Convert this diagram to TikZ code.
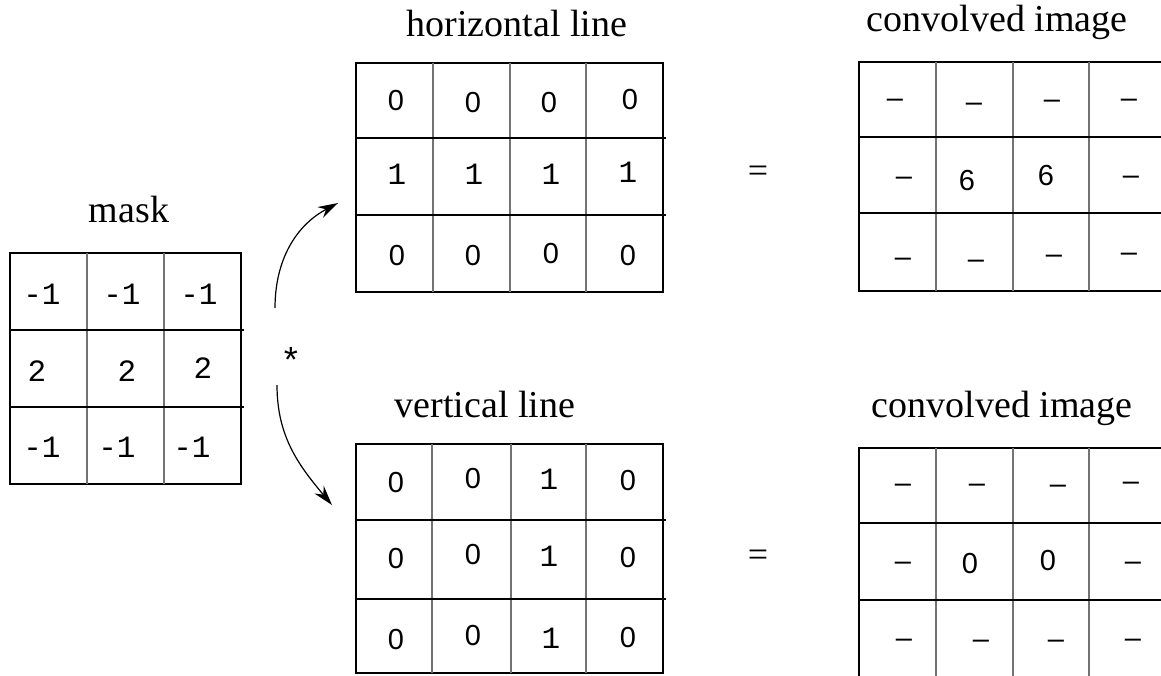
\documentclass[tikz,border=0pt]{standalone}
\usepackage{fontspec}
\setmainfont{Liberation Serif}
\newfontfamily\cellfont{Liberation Mono}
\newfontfamily\digitfont{Liberation Sans}
\usetikzlibrary{arrows.meta}
\tikzset{
  frame/.style={draw=black, line width=2.2pt, anchor=north west, inner sep=0pt, outer sep=0pt},
  vsep/.style={draw=black!55, line width=1.3pt},
  hsep/.style={draw=black, line width=1.3pt},
  cell/.style={font=\cellfont\fontsize{31}{33}\selectfont, inner sep=0pt, text height=18pt, text depth=0pt},
  zcell/.style={font=\digitfont\fontsize{29}{31}\selectfont, inner sep=0pt, text height=20pt, text depth=0pt},
  lbl/.style={font=\fontsize{38}{40}\selectfont, anchor=base, inner sep=0pt},
  eqsign/.style={font=\fontsize{36}{38}\selectfont, anchor=base, inner sep=0pt},
  arc/.style={line width=1.2pt, -{Stealth[length=20pt,width=12pt]}},
}
\begin{document}
\begin{tikzpicture}[x=1pt,y=-1pt]
\clip (0,0) rectangle (1161,675);
\fill[white] (0,0) rectangle (1161,675);

% ---------- mask ----------
\node[lbl] (lmask) at (129,222) {mask};
\node[frame, minimum width=231pt, minimum height=231pt] (mask) at (10,253) {};
\foreach \x in {87,164} \draw[vsep] (\x,253) -- (\x,484);
\foreach \y in {330,407} \draw[hsep] (10,\y) -- (244,\y);
\foreach \t/\x/\y [count=\i] in {-1/42/295, -1/122/295, -1/199/295,
  2/37/372, 2/127/372, 2/203/369,
  -1/42/448, -1/117/448, -1/192/448}
  \node[cell] (m\i) at (\x,\y) {\t};

% ---------- horizontal line ----------
\node[lbl] (lhor) at (517,36) {horizontal line};
\node[frame, minimum width=307pt, minimum height=229pt] (hor) at (356,63) {};
\foreach \x in {433,510,586} \draw[vsep] (\x,63) -- (\x,292);
\foreach \y in {138,215} \draw[hsep] (356,\y) -- (666,\y);
\foreach \t/\x/\y [count=\i] in {0/396/100, 0/473/102, 0/549/102, 0/630/99}
  \node[zcell] (h\i) at (\x,\y) {\t};
\foreach \t/\x/\y [count=\i from 5] in {1/397/175, 1/474/175, 1/551/175, 1/628/173}
  \node[cell] (h\i) at (\x,\y) {\t};
\foreach \t/\x/\y [count=\i from 9] in {0/397/255, 0/473/255, 0/551/253, 0/628/255}
  \node[zcell] (h\i) at (\x,\y) {\t};

% ---------- vertical line ----------
\node[lbl] (lver) at (485,417) {vertical line};
\node[frame, minimum width=307pt, minimum height=229pt] (ver) at (356,444) {};
\foreach \x in {432,511,586} \draw[vsep] (\x,444) -- (\x,673);
\foreach \y in {520,599} \draw[hsep] (356,\y) -- (666,\y);
\foreach \t/\x/\y [count=\i] in {0/396/482, 0/473/478, 0/628/480,
  0/396/558, 0/473/554, 0/628/557,
  0/396/639, 0/473/635, 0/628/637}
  \node[zcell] (v\i) at (\x,\y) {\t};
\foreach \t/\x/\y [count=\i from 10] in {1/549/480, 1/549/557, 1/551/639}
  \node[cell] (v\i) at (\x,\y) {\t};

% ---------- equals ----------
\node[eqsign] (eq1) at (758,182) {=};
\node[eqsign] (eq2) at (758,566) {=};

% ---------- convolved image (top) ----------
\node[lbl] (lct) at (997,31) {convolved image};
\node[frame, minimum width=307pt, minimum height=229pt] (ct) at (859,62) {};
\foreach \x in {936,1013,1089} \draw[vsep] (\x,62) -- (\x,291);
\foreach \y in {137,213} \draw[hsep] (859,\y) -- (1166,\y);
\foreach \t/\x/\y [count=\i] in {–/895/97, –/974/101, –/1052/98, –/1129/97,
  –/904/175, 6/967/180, 6/1046/175, –/1131/174,
  –/903/256, –/976/258, –/1054/253, –/1129/251}
  \node[zcell] (c\i) at (\x,\y) {\t};

% ---------- convolved image (bottom) ----------
\node[lbl] (lcb) at (1002,417) {convolved image};
\node[frame, minimum width=307pt, minimum height=229pt] (cb) at (859,448) {};
\foreach \x in {936,1013,1089} \draw[vsep] (\x,448) -- (\x,677);
\foreach \y in {523,600} \draw[hsep] (859,\y) -- (1166,\y);
\foreach \t/\x/\y [count=\i] in {–/903/482, –/977/482, –/1058/483, –/1131/480,
  –/903/560, 0/970/563, 0/1048/560, –/1133/560,
  –/904/637, –/981/638, –/1056/638, –/1133/637}
  \node[zcell] (d\i) at (\x,\y) {\t};

% ---------- convolution arrows ----------
\node[font=\cellfont\fontsize{36}{38}\selectfont, anchor=base, inner sep=0pt] (star) at (291,373) {*};
\coordinate (a1s) at (275,308);
\coordinate (a1e) at (338,203);
\coordinate (a2s) at (277,385);
\coordinate (a2e) at (332,505);
\draw[arc] (a1s) to[out=90, in=208] (a1e);
\draw[arc] (a2s) to[out=-90, in=130] (a2e);
\end{tikzpicture}
\end{document}
